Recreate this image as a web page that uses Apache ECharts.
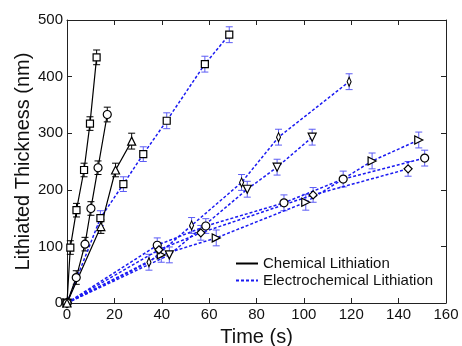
<!DOCTYPE html>
<html><head><meta charset="utf-8">
<script src="https://cdn.jsdelivr.net/npm/echarts@6/dist/echarts.min.js"></script>
<style>html,body{margin:0;padding:0;background:#fff}#c{width:462px;height:346px}</style>
</head><body><div id="c"></div>
<script>
// ---- Data ----
const xTicks = [0, 20, 40, 60, 80, 100, 120, 140, 160];
const yTicks = [0, 100, 200, 300, 400, 500];

// Chemical lithiation (black solid)
const chemSqX = [0, 1.4, 4.0, 7.2, 9.7, 12.5];
const chemSqY = [0, 98, 164, 235, 317, 434];
const chemSqE = [0, 12, 12, 12, 12, 13];
const chemCiX = [0, 3.9, 7.6, 10.1, 13.1, 17.0];
const chemCiY = [0, 45, 104, 167, 239, 333];
const chemCiE = [0, 12, 12, 12, 12, 13];
const chemTrX = [0, 14.3, 20.5, 27.3];
const chemTrY = [0, 135, 235, 286];
const chemTrE = [0, 12, 12, 14];

// Electrochemical lithiation (blue dashed)
const elSqX = [0, 14.1, 23.8, 32.2, 42.1, 58.2, 68.5];
const elSqY = [0, 150, 210, 263, 322, 422, 474];
const elSqE = [0, 13, 13, 13, 14, 14, 14];
const elDfX = [0, 34.6, 52.6, 73.7, 89.3, 119.1];
const elDfY = [0, 72, 137, 213, 293, 391];
const elDfE = [0, 14, 14, 14, 14, 14];
const elTdX = [0, 43.2, 76.1, 88.7, 103.5];
const elTdY = [0, 85, 201, 240, 293];
const elTdE = [0, 14, 14, 14, 14];
const elTrX = [0, 39.8, 63.0, 100.8, 128.8, 148.5];
const elTrY = [0, 85, 115, 178, 251, 288];
const elTrE = [0, 13, 14, 14, 14, 14];
const elCiX = [0, 38.1, 58.6, 91.6, 116.6, 151.0];
const elCiY = [0, 102, 136, 177, 219, 256];
const elCiE = [0, 13, 13, 14, 14, 14];
const elDiX = [0, 38.8, 56.5, 103.9, 144.0];
const elDiY = [0, 94, 124, 191, 237];
const elDiE = [0, 13, 13, 13, 13];

const legendNames = ['Chemical Lithiation', 'Electrochemical Lithiation'];

// ---- Styles ----
const BLUE = '#1a1af2';
const BLUE_ERR = '#5c5cf5';
const FONT = '"Liberation Sans", Arial, sans-serif';
const thinDiamond = 'path://M0,-10L4,0L0,10L-4,0Z';

function pts(xs, ys) { return xs.map((x, i) => [x, ys[i]]); }
function errPts(xs, ys, es) {
  const out = [];
  xs.forEach((x, i) => { if (es[i] > 0) out.push([x, ys[i], es[i]]); });
  return out;
}
function errSeries(xs, ys, es, color) {
  return {
    type: 'custom', silent: true, z: 3,
    data: errPts(xs, ys, es),
    renderItem: function (params, api) {
      const x = api.value(0), y = api.value(1), e = api.value(2);
      const t = api.coord([x, y + e]), b = api.coord([x, y - e]);
      const hw = 3.5;
      const st = { stroke: color, lineWidth: 1, fill: null };
      return { type: 'group', children: [
        { type: 'line', shape: { x1: t[0], y1: t[1], x2: b[0], y2: b[1] }, style: st },
        { type: 'line', shape: { x1: t[0] - hw, y1: t[1], x2: t[0] + hw, y2: t[1] }, style: st },
        { type: 'line', shape: { x1: b[0] - hw, y1: b[1], x2: b[0] + hw, y2: b[1] }, style: st }
      ]};
    }
  };
}
function lineSeries(name, xs, ys, color, dashed, symbol, size, rotate) {
  return {
    name: name, type: 'line', z: 4,
    data: pts(xs, ys),
    symbol: symbol, symbolSize: size, symbolRotate: rotate || 0,
    showAllSymbol: true,
    lineStyle: { color: color, width: dashed ? 1.5 : 1.2, type: dashed ? [3, 2] : 'solid' },
    itemStyle: { color: '#ffffff', borderColor: '#000', borderWidth: 1.2 },
    emphasis: { disabled: true },
    animation: false
  };
}

const series = [
  errSeries(elSqX, elSqY, elSqE, BLUE_ERR),
  errSeries(elDfX, elDfY, elDfE, BLUE_ERR),
  errSeries(elTdX, elTdY, elTdE, BLUE_ERR),
  errSeries(elTrX, elTrY, elTrE, BLUE_ERR),
  errSeries(elCiX, elCiY, elCiE, BLUE_ERR),
  errSeries(elDiX, elDiY, elDiE, BLUE_ERR),
  lineSeries('e1', elSqX, elSqY, BLUE, true, 'rect', 7),
  lineSeries('e2', elDfX, elDfY, BLUE, true, thinDiamond, [4, 9]),
  lineSeries('e3', elTdX, elTdY, BLUE, true, 'triangle', 8, 180),
  lineSeries('e4', elTrX, elTrY, BLUE, true, 'triangle', 8, -90),
  lineSeries('e5', elCiX, elCiY, BLUE, true, 'circle', 8),
  lineSeries('e6', elDiX, elDiY, BLUE, true, 'diamond', 8),
  errSeries(chemSqX, chemSqY, chemSqE, '#000'),
  errSeries(chemCiX, chemCiY, chemCiE, '#000'),
  errSeries(chemTrX, chemTrY, chemTrE, '#000'),
  lineSeries('c1', chemSqX, chemSqY, '#000', false, 'rect', 7),
  lineSeries('c2', chemCiX, chemCiY, '#000', false, 'circle', 8),
  lineSeries('c3', chemTrX, chemTrY, '#000', false, 'triangle', 8),
  { name: legendNames[0], type: 'line', data: [], symbol: 'none',
    lineStyle: { color: '#000', width: 1.2, type: 'solid' }, itemStyle: { color: '#000' } },
  { name: legendNames[1], type: 'line', data: [], symbol: 'none',
    lineStyle: { color: BLUE, width: 1.5, type: [3, 2] }, itemStyle: { color: BLUE } }
];

const axisCommon = {
  axisLine: { show: true, onZero: false, lineStyle: { color: '#222', width: 1 } },
  axisTick: { show: true, inside: true, length: 5, lineStyle: { color: '#222' } },
  splitLine: { show: false }
};

const chart = echarts.init(document.getElementById('c'), null, { renderer: 'canvas' });
chart.setOption({
  animation: false,
  backgroundColor: '#fff',
  textStyle: { fontFamily: FONT },
  grid: { left: 67, right: 16, top: 20, bottom: 43, containLabel: false, outerBoundsMode: 'none' },
  legend: {
    data: legendNames, orient: 'vertical', left: 230, top: 251,
    itemWidth: 22, itemHeight: 12, itemGap: 2,
    itemStyle: { opacity: 0, borderWidth: 0 },
    textStyle: { fontFamily: FONT, fontSize: 15, color: '#111' },
    selectedMode: false
  },
  xAxis: [
    Object.assign({ type: 'value', min: xTicks[0], max: xTicks[xTicks.length - 1], interval: xTicks[1] - xTicks[0],
      name: 'Time (s)', nameLocation: 'middle', nameGap: 24,
      nameTextStyle: { fontFamily: FONT, fontSize: 20, color: '#111' },
      axisLabel: { margin: 4, fontFamily: FONT, fontSize: 15, color: '#111' } }, axisCommon),
    Object.assign({ type: 'value', position: 'top', min: xTicks[0], max: xTicks[xTicks.length - 1], interval: xTicks[1] - xTicks[0],
      axisLabel: { show: false } }, axisCommon)
  ],
  yAxis: [
    Object.assign({ type: 'value', min: yTicks[0], max: yTicks[yTicks.length - 1], interval: yTicks[1] - yTicks[0],
      name: 'Lithiated Thickness (nm)', nameLocation: 'middle', nameGap: 34, nameRotate: 90,
      nameMoveOverlap: false,
      nameTextStyle: { fontFamily: FONT, fontSize: 20, color: '#111' },
      axisLabel: { margin: 4, fontFamily: FONT, fontSize: 15, color: '#111' } }, axisCommon),
    Object.assign({ type: 'value', position: 'right', min: yTicks[0], max: yTicks[yTicks.length - 1], interval: yTicks[1] - yTicks[0],
      axisLabel: { show: false } }, axisCommon)
  ],
  series: series
});
</script>
</body></html>
